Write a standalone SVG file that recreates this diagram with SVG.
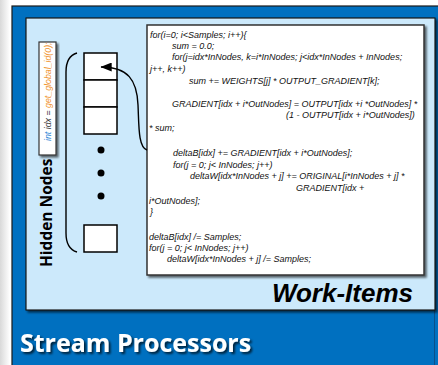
<svg xmlns="http://www.w3.org/2000/svg" width="438" height="365" viewBox="0 0 438 365">
  <defs>
    <linearGradient id="edgeShade" x1="0" y1="0" x2="1" y2="0">
      <stop offset="0" stop-color="#d9d9d9"/>
      <stop offset="1" stop-color="#ffffff"/>
    </linearGradient>
    <filter id="boxShadow" x="-10%" y="-10%" width="130%" height="130%">
      <feGaussianBlur in="SourceAlpha" stdDeviation="1.2"/>
      <feOffset dx="2" dy="2" result="b"/>
      <feComponentTransfer><feFuncA type="linear" slope="0.6"/></feComponentTransfer>
      <feMerge><feMergeNode/><feMergeNode in="SourceGraphic"/></feMerge>
    </filter>
    <filter id="textShadow" x="-5%" y="-20%" width="115%" height="160%">
      <feGaussianBlur in="SourceAlpha" stdDeviation="1.3"/>
      <feOffset dx="1.5" dy="2" result="b"/>
      <feComponentTransfer><feFuncA type="linear" slope="0.7"/></feComponentTransfer>
      <feMerge><feMergeNode/><feMergeNode in="SourceGraphic"/></feMerge>
    </filter>
    <marker id="arrowHead" viewBox="0 0 10 8" refX="9.5" refY="4" markerUnits="userSpaceOnUse" markerWidth="12" markerHeight="9" orient="auto">
      <path d="M0,0 L10,4 L0,8 Z" fill="#000"/>
    </marker>
  </defs>
  <style>
    .cell { fill: #ffffff; stroke: #000; stroke-width: 1.5; }
    .dot { fill: #000; }
    .code { font-family: "Liberation Sans", Arial, sans-serif; font-style: italic; font-size: 9px; fill: #111; }
    .wire { fill: none; stroke: #000; stroke-width: 1.4; }
  </style>

  <!-- page edge -->
  <rect x="0" y="0" width="438" height="365" fill="#ffffff"/>
  <rect x="0" y="0" width="10" height="365" fill="url(#edgeShade)"/>

  <!-- outer processor panel -->
  <g id="stream-processors">
    <rect x="12" y="6" width="430" height="370" fill="#0070C0" stroke="#1a1a1a" stroke-width="1.2"/>
    <line x1="434.5" y1="18" x2="434.5" y2="365" stroke="#0a4f8a" stroke-width="1"/>
    <text x="20" y="352" font-family="'Open Sans', 'Noto Sans', sans-serif" font-weight="bold" font-size="25" fill="#ffffff" filter="url(#textShadow)">Stream Processors</text>
  </g>

  <!-- work-item area -->
  <g id="work-items">
    <rect x="26" y="18" width="409" height="292" fill="#CCE9FB" stroke="#1a1a1a" stroke-width="1.2" filter="url(#boxShadow)"/>
    <text x="413" y="302" text-anchor="end" font-family="'Liberation Sans', Arial, sans-serif" font-weight="bold" font-style="italic" font-size="26" fill="#000">Work-Items</text>
  </g>

  <!-- hidden node column -->
  <g id="hidden-nodes">
    <text transform="translate(52,267) rotate(-90)" font-family="'Open Sans', 'Noto Sans', sans-serif" font-weight="bold" font-size="15.5" fill="#000">Hidden Nodes</text>
    <path class="wire" d="M77,53 C70,55 66,62 66,72 L66,233 C66,243 70,250 77,252"/>
    <rect class="cell" x="84" y="53" width="33" height="27"/>
    <rect class="cell" x="84" y="80" width="33" height="27"/>
    <rect class="cell" x="84" y="107" width="33" height="27"/>
    <circle class="dot" cx="101" cy="150" r="3.5"/>
    <circle class="dot" cx="101" cy="173" r="3.5"/>
    <circle class="dot" cx="101" cy="196" r="3.5"/>
    <rect class="cell" x="84" y="225" width="33" height="27"/>
  </g>

  <!-- work-item index label -->
  <g id="index-label">
    <rect x="39" y="42" width="17" height="113" fill="#ffffff" stroke="#333" stroke-width="1.2" filter="url(#boxShadow)"/>
    <text transform="translate(51,141) rotate(-90)" font-family="'Liberation Sans', Arial, sans-serif" font-style="italic" font-size="8.8"><tspan fill="#2E86D6">int</tspan><tspan fill="#333"> idx = </tspan><tspan fill="#F0922B">get_global_id(0);</tspan></text>
  </g>

  <!-- kernel source -->
  <g id="kernel-code">
    <rect x="147" y="25" width="277" height="250" fill="#ffffff" stroke="#333" stroke-width="1.5" filter="url(#boxShadow)"/>
    <text class="code" x="150" y="38">for(i=0; i&lt;Samples; i++){</text>
    <text class="code" x="172" y="49">sum = 0.0;</text>
    <text class="code" x="172" y="60">for(j=idx*InNodes, k=i*InNodes; j&lt;idx*InNodes + InNodes;</text>
    <text class="code" x="150" y="72">j++, k++)</text>
    <text class="code" x="189" y="84">sum += WEIGHTS[j] * OUTPUT_GRADIENT[k];</text>
    <text class="code" x="172" y="107">GRADIENT[idx + i*OutNodes] = OUTPUT[idx +i *OutNodes] *</text>
    <text class="code" x="286" y="118">(1 - OUTPUT[idx + i*OutNodes])</text>
    <text class="code" x="149" y="131">* sum;</text>
    <text class="code" x="173" y="156">deltaB[idx] += GRADIENT[idx + i*OutNodes];</text>
    <text class="code" x="173" y="168">for(j = 0; j&lt; InNodes; j++)</text>
    <text class="code" x="190" y="179">deltaW[idx*InNodes + j] += ORIGINAL[i*InNodes + j] *</text>
    <text class="code" x="296" y="191">GRADIENT[idx +</text>
    <text class="code" x="149" y="204">i*OutNodes];</text>
    <text class="code" x="150" y="215">}</text>
    <text class="code" x="149" y="240">deltaB[idx] /= Samples;</text>
    <text class="code" x="149" y="251">for(j = 0; j&lt; InNodes; j++)</text>
    <text class="code" x="167" y="262">deltaW[idx*InNodes + j] /= Samples;</text>
  </g>

  <!-- connector -->
  <g id="connectors">
    <path class="wire" d="M147,150 C138,147 139,125 138,105 C137,80 128,67 101,67" marker-end="url(#arrowHead)"/>
  </g>
</svg>
